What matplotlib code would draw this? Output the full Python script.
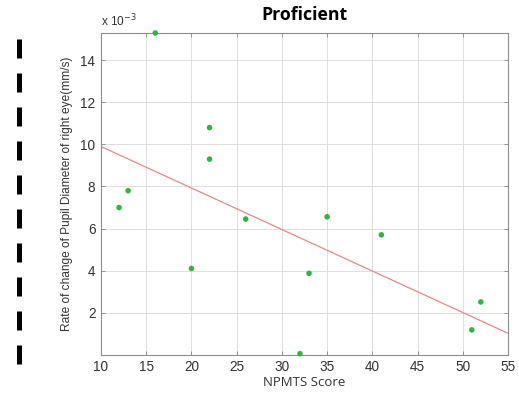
import matplotlib
matplotlib.use("Agg")
import matplotlib.pyplot as plt
from matplotlib.lines import Line2D

# NPMTS score vs rate of change of pupil diameter (x 1e-3 mm/s)
npmts_score = [12, 13, 16, 20, 22, 22, 26, 32, 33, 35, 41, 51, 52]
pupil_rate = [7.0, 7.8, 15.3, 4.1, 10.8, 9.3, 6.45, 0.05, 3.87, 6.56, 5.7, 1.18, 2.51]

# regression line end points
fit_x = [10, 55]
fit_y = [9.9, 1.02]

x_ticks = [10, 15, 20, 25, 30, 35, 40, 45, 50, 55]
y_ticks = [2, 4, 6, 8, 10, 12, 14]

plt.rcParams.update({
    "font.family": ["Liberation Sans", "DejaVu Sans"],
    "font.size": 9,
})

fig = plt.figure(figsize=(5.19, 3.96), dpi=100)
ax = fig.add_axes([0.1946, 0.1043, 0.7842, 0.8124])

ax.plot(fit_x, fit_y, color="#e08a8a", linewidth=0.9, zorder=2)
ax.scatter(npmts_score, pupil_rate, s=16, color="#2fb53f", edgecolors="none",
           zorder=3, clip_on=False)

ax.set_xlim(10, 55)
ax.set_ylim(0, 15.3)
ax.set_xticks(x_ticks)
ax.set_yticks(y_ticks)
ax.grid(True, color="#dedede", linewidth=0.7)
ax.set_axisbelow(True)
ax.tick_params(direction="in", length=3, width=0.6, color="#888888",
               top=True, right=True, labelsize=9.8, pad=4,
               labelcolor="#333333")
for sp in ax.spines.values():
    sp.set_color("#8c8c8c")
    sp.set_linewidth(0.8)

ax.set_xlabel("NPMTS Score", fontsize=9.5, labelpad=1, color="#333333",
              family=["Open Sans", "DejaVu Sans"])
ax.set_ylabel("Rate of change of Pupil Diameter of right eye(mm/s)",
              fontsize=8.6, labelpad=5, color="#333333")
ax.set_title("Proficient", fontsize=12.8, fontweight="bold", pad=9,
             family=["Open Sans", "DejaVu Sans"])
ax.text(0.0, 1.012, r"x 10$^{-3}$", transform=ax.transAxes, fontsize=8.5,
        ha="left", va="bottom", color="#333333")

# dashed black bar at the left edge of the slide
fig.add_artist(Line2D([18.5 / 519, 18.5 / 519], [1 - 39 / 396, 1 - 365 / 396],
                      transform=fig.transFigure, color="black", linewidth=3.6,
                      dashes=(3.8, 3.0), solid_capstyle="butt"))

fig.savefig("out.png", dpi=100)
